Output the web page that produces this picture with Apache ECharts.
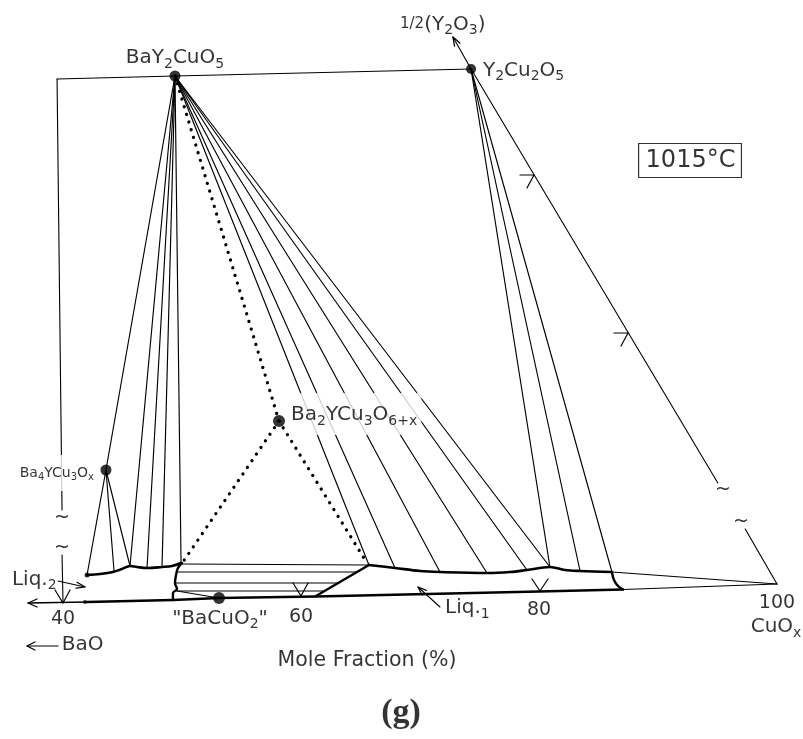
<!DOCTYPE html>
<html>
<head>
<meta charset="utf-8">
<script src="https://cdn.jsdelivr.net/npm/echarts@6/dist/echarts.min.js"></script>
<style>
  html, body { margin: 0; padding: 0; background: #fff; }
  #chart { width: 803px; height: 739px; }
</style>
</head>
<body>
<div id="chart"></div>
<script>
// Isothermal section at 1015 °C.
// x = mole fraction CuOx (%), y = height of the section above its base (arbitrary units).

// Phases
const phaseBaY2CuO5 = [49.41, 564];
const phaseY2Cu2O5 = [74.29, 571];
const phase123 = [58.15, 219];
const phaseBa4 = [43.61, 170];
const phaseBaCuO2 = [53.11, 42];
const cornerCuO = [100, 56];
const frameCorner = [39.50, 561];
const y2o3Tip = [72.77, 603];

// Liquidus curves
const liq2Curve = [[42.02, 65], [43.11, 66], [44.20, 68], [44.96, 71], [45.63, 74], [46.22, 73], [47.06, 72], [48.32, 73], [49.16, 74], [49.92, 77]];
const liq1Curve = [[65.71, 75], [67.90, 72], [70.00, 69], [71.68, 68], [75.63, 67], [77.56, 68], [78.99, 70], [80.92, 73], [82.18, 70], [83.45, 69], [86.13, 68]];
const liq1Tail = [[86.13, 68], [100, 56]];
const liq1Edge = [[86.13, 68], [86.30, 60], [86.64, 54], [87.06, 50.5]];

// Base (composition axis)
const baseLeft = [[37.06, 37], [42.02, 38]];
const baseMain = [[42.02, 38], [49.24, 40], [53.11, 42], [61.26, 43.5], [80.00, 48.5], [87.06, 50.5]];
const baseRight = [[87.06, 50.5], [100, 56]];

// BaCuO2 + liquid field
const slabLeftEdge = [[50.00, 77], [49.66, 72], [49.50, 65], [49.41, 57], [49.58, 51], [49.24, 47], [49.24, 40]];
const slabRightEdge = [[65.71, 75], [61.26, 44]];
const slabTies = [
  [[50.00, 76], [65.63, 75]],
  [[49.58, 68], [64.71, 68]],
  [[49.50, 57], [63.19, 57]],
  [[49.58, 49], [61.93, 49]],
  [[49.58, 49], [53.11, 42]]
];

// Tie-line ends
const tiesBaY2CuO5 = [[43.61, 170], [45.63, 74], [47.06, 72], [48.32, 73], [49.92, 77],
                      [65.71, 75], [67.90, 72], [71.68, 68], [75.63, 67], [78.99, 70], [80.92, 73]];
const tiesBa4 = [[42.02, 65], [44.29, 69], [45.63, 74]];
const tiesY2Cu2O5 = [[80.92, 73], [83.45, 69], [86.13, 68]];
const dottedEnds = [[50.08, 78], [65.55, 77]];

// Axis ticks
const tickValues = [40, 60, 80, 100];
const tickLabelH = [20.5, 23, 30, 36.5];

// Section outline pieces (broken at the scale-break marks)
const leftAxisUpper = [frameCorner, [39.92, 130]];
const leftAxisLower = [[39.92, 85], [40.00, 38]];
const rightEdgeUpper = [phaseY2Cu2O5, [95.03, 157]];
const rightEdgeLower = [[97.33, 111], cornerCuO];
const tildeMarks = [[39.92, 122], [39.92, 92], [95.46, 150], [96.97, 118]];

// Small marks (arrowheads, ticks)
const headLeftAxis = [[39.33, 50], [40.00, 37], [40.59, 50]];
const tickMarks = [
  [[59.33, 57], [60.00, 44], [60.59, 57]],
  [[79.41, 61], [80.08, 49], [80.76, 61]]
];
const edgeMarks = [
  [[78.40, 465], [79.58, 465], [78.99, 452]],
  [[86.30, 307], [87.48, 307], [86.89, 294]]
];
const headY2O3 = [[72.90, 594], y2o3Tip, [73.35, 597]];
const arrowLiq2 = [[39.58, 59], [41.85, 53]];
const headLiq2 = [[41.18, 57.8], [41.85, 53], [41.10, 51.8]];
const arrowLiq1 = [[71.68, 33], [69.83, 53]];
const headLiq1 = [[70.18, 45], [69.83, 53], [70.53, 49.6]];
const arrowBaO = [[39.58, -6], [36.97, -6]];
const headBaO = [[37.64, -2], [36.97, -6], [37.64, -10]];
const headBase = [[37.82, 41], [37.06, 37], [37.82, 33]];

const FONT = "'DejaVu Sans', 'Liberation Sans', sans-serif";
const INK = '#000';

const series = [];
function path(pts, width, extra) {
  series.push(Object.assign({
    type: 'line', data: pts, symbol: 'none', clip: false, silent: true, animation: false, z: 2,
    lineStyle: { color: INK, width: width, cap: 'round', join: 'round' }
  }, extra || {}));
}

// outline
path([frameCorner, phaseBaY2CuO5, phaseY2Cu2O5], 1.2);
path(leftAxisUpper, 1.1);
path(leftAxisLower, 1.1);
path(rightEdgeUpper, 1.1);
path(rightEdgeLower, 1.1);
path([phaseY2Cu2O5, y2o3Tip], 1.1);
path(headY2O3, 1.3);

// tie lines
tiesBaY2CuO5.forEach(p => path([phaseBaY2CuO5, p], 1.15));
tiesBa4.forEach(p => path([phaseBa4, p], 1.15));
tiesY2Cu2O5.forEach(p => path([phaseY2Cu2O5, p], 1.15));
slabTies.forEach(seg => path(seg, 1.15));

// dotted boundaries of the Ba2YCu3O6+x triangle
const dotted = { color: INK, width: 3.3, type: [0.01, 8], cap: 'round' };
path([phaseBaY2CuO5, phase123], 3.3, { lineStyle: dotted });
dottedEnds.forEach(p => path([phase123, p], 3.3, { lineStyle: dotted }));

// liquidus and base
path(liq2Curve, 2.6, { smooth: 0.35 });
path(liq1Curve, 2.6, { smooth: 0.35 });
path(liq1Edge, 2.4, { smooth: 0.4 });
path(liq1Tail, 1.1);
path(slabLeftEdge, 2.4, { smooth: 0.4 });
path(slabRightEdge, 2.4);
path(baseLeft, 1.3);
path(baseMain, 2.4);
path(baseRight, 1.2);

// marks
path(headLeftAxis, 1.2);
path(headBase, 1.3);
tickMarks.forEach(m => path(m, 1.2));
edgeMarks.forEach(m => path(m, 1.2));
path(arrowLiq2, 1.1); path(headLiq2, 1.2);
path(arrowLiq1, 1.1); path(headLiq1, 1.2);
path(arrowBaO, 1.1); path(headBaO, 1.2);

// phase points
series.push({
  type: 'scatter', clip: false, silent: true, animation: false, z: 5,
  itemStyle: { color: INK },
  data: [
    { value: phaseBaY2CuO5, symbolSize: 11 },
    { value: phaseY2Cu2O5, symbolSize: 10 },
    { value: phase123, symbolSize: 12 },
    { value: phaseBa4, symbolSize: 11 },
    { value: phaseBaCuO2, symbolSize: 12 },
    { value: liq2Curve[0], symbolSize: 5 },
    { value: [41.85, 38], symbolSize: 4 }
  ]
});

// text
const richBig = {
  n: { fontFamily: FONT, fontSize: 20, lineHeight: 26, verticalAlign: 'middle', color: INK },
  s: { fontFamily: FONT, fontSize: 14, lineHeight: 14, verticalAlign: 'bottom', color: INK },
  f: { fontFamily: FONT, fontSize: 15, lineHeight: 15, verticalAlign: 'middle', color: INK }
};
const richSmall = {
  n: { fontFamily: FONT, fontSize: 14, lineHeight: 18, verticalAlign: 'middle', color: INK },
  s: { fontFamily: FONT, fontSize: 10, lineHeight: 10, verticalAlign: 'bottom', color: INK }
};

function textItem(pos, text, rich, position, extra) {
  return {
    value: pos,
    label: Object.assign({
      show: true, position: position || 'inside', distance: 0,
      formatter: text, rich: rich, color: INK, fontFamily: FONT
    }, extra || {})
  };
}

const textData = [
  textItem([49.41, 582], '{n|BaY}{s|2}{n|CuO}{s|5}', richBig),
  textItem([75.29, 569.5], '{n|Y}{s|2}{n|Cu}{s|2}{n|O}{s|5}', richBig, 'right'),
  textItem([59.08, 226], '{n|Ba}{s|2}{n|YCu}{s|3}{n|O}{s|6+x}', richBig, 'right',
    { backgroundColor: '#fff', padding: [9, 4, 7, 1] }),
  textItem([42.69, 167], '{n|Ba}{s|4}{n|YCu}{s|3}{n|O}{s|x}', richSmall, 'left',
    { backgroundColor: '#fff', padding: [9, 1, 9, 2] }),
  textItem([53.19, 21.5], '{n|"BaCuO}{s|2}{n|"}', richBig),
  textItem([99.92, 13], '{n|CuO}{s|x}', richBig),
  textItem([68.32, 615.5], '{f|1/2}{n|(Y}{s|2}{n|O}{s|3}{n|)}', richBig, 'right'),
  textItem([35.71, 60.5], '{n|Liq.}{s|2}', richBig, 'right'),
  textItem([72.10, 32], '{n|Liq.}{s|1}', richBig, 'right'),
  textItem([41.64, -5], 'BaO', null, 'inside', { fontSize: 20 }),
  textItem([65.55, -21], 'Mole Fraction (%)', null, 'inside', { fontSize: 20.5 }),
  textItem([68.40, -73], '(g)', null, 'inside',
    { fontSize: 34, fontWeight: 'bold', fontFamily: "'Liberation Serif', 'DejaVu Serif', serif", color: '#000' }),
  textItem([92.69, 479.5], '1015°C', null, 'inside',
    { fontSize: 24, borderColor: INK, borderWidth: 1.2, padding: [4, 6, 3, 7], lineHeight: 27 })
];
tickValues.forEach((v, i) => {
  textData.push(textItem([v, tickLabelH[i]], String(v), null, 'inside', { fontSize: 19 }));
});
tildeMarks.forEach(p => {
  textData.push(textItem(p, '~', null, 'inside', { fontSize: 19 }));
});

series.push({
  type: 'scatter', clip: false, silent: true, animation: false, z: 10,
  symbolSize: 0, itemStyle: { color: 'transparent' },
  data: textData
});

const chart = echarts.init(document.getElementById('chart'), null, { renderer: 'canvas' });
chart.setOption({
  backgroundColor: '#fff',
  animation: false,
  grid: { left: 15.4, right: 2.2, top: 0, bottom: 99 },
  xAxis: { type: 'value', min: 36, max: 102, show: false },
  yAxis: { type: 'value', min: 0, max: 640, show: false },
  series: series
});
</script>
</body>
</html>
